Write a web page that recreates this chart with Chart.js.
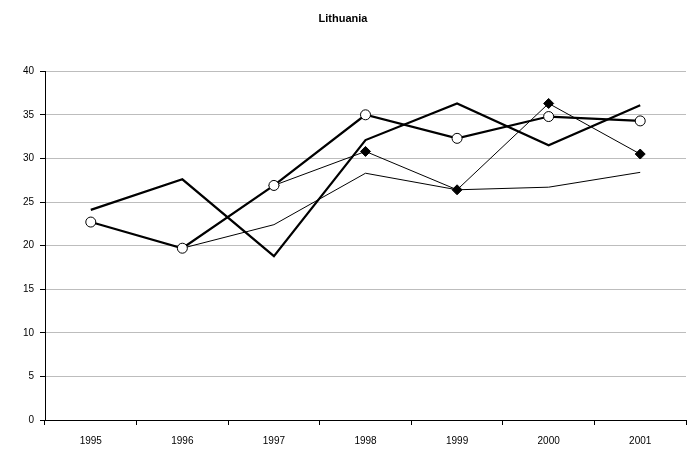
<!DOCTYPE html>
<html>
<head>
<meta charset="utf-8">
<script src="https://cdn.jsdelivr.net/npm/chart.js@4/dist/chart.umd.min.js"></script>
<style>
  html, body { margin: 0; padding: 0; background: #fff; }
  #wrap { width: 697px; height: 452px; }
</style>
</head>
<body>
<div id="wrap"><canvas id="grafico"></canvas></div>
<script>
const years = ["1995", "1996", "1997", "1998", "1999", "2000", "2001"];
const serieGruesa = [24.1, 27.6, 18.8, 32.1, 36.3, 31.5, 36.1];
const serieCirculos = [22.7, 19.7, 26.9, 35.0, 32.3, 34.8, 34.3];
const serieRombos = [null, null, 26.9, 30.8, 26.4, 36.3, 30.5];
const serieFina = [null, 19.7, 22.4, 28.3, 26.4, 26.7, 28.4];
const yTicks = [0, 5, 10, 15, 20, 25, 30, 35, 40];

const grafico = document.getElementById("grafico").getContext("2d");
Chart.defaults.font.family = "'Liberation Sans', Arial, sans-serif";
Chart.defaults.color = "#000";

const myChart = new Chart(grafico, {
    type: 'line',
    data: {
        labels: years,
        datasets: [
            {
                label: 'circulos',
                data: serieCirculos,
                borderColor: '#000',
                borderWidth: 2.2,
                pointStyle: 'circle',
                pointRadius: 5,
                pointBackgroundColor: '#fff',
                pointBorderColor: '#000',
                pointBorderWidth: 1,
                tension: 0,
                order: 0
            },
            {
                label: 'gruesa',
                data: serieGruesa,
                borderColor: '#000',
                borderWidth: 2.2,
                pointRadius: 0,
                tension: 0,
                order: 1
            },
            {
                label: 'rombos',
                data: serieRombos,
                borderColor: '#000',
                borderWidth: 1,
                pointStyle: 'rectRot',
                pointRadius: 5,
                pointBackgroundColor: '#000',
                pointBorderColor: '#000',
                tension: 0,
                order: 2
            },
            {
                label: 'fina',
                data: serieFina,
                borderColor: '#000',
                borderWidth: 1,
                pointRadius: 0,
                tension: 0,
                order: 3
            }
        ]
    },
    options: {
        responsive: true,
        maintainAspectRatio: false,
        animation: false,
        layout: { padding: { left: 0, right: 11, top: 0, bottom: 0 } },
        plugins: {
            legend: { display: false },
            tooltip: { enabled: false },
            title: {
                display: true,
                text: 'Lithuania',
                font: { size: 11, weight: 'bold' },
                padding: { top: 12, bottom: 46 }
            }
        },
        scales: {
            x: {
                offset: true,
                grid: {
                    offset: true,
                    drawOnChartArea: false,
                    tickColor: '#000',
                    tickLength: 5
                },
                border: { color: '#000', width: 1 },
                ticks: { font: { size: 10 }, padding: 10, maxRotation: 0 },
                afterFit: (scale) => { scale.height = 32; }
            },
            y: {
                min: 0,
                max: 40,
                afterBuildTicks: (scale) => { scale.ticks = yTicks.map(v => ({ value: v })); },
                grid: {
                    color: '#bdbdbd',
                    tickColor: '#000',
                    tickLength: 5
                },
                border: { color: '#000', width: 1 },
                ticks: { font: { size: 10 }, padding: 6 },
                afterFit: (scale) => { scale.width = 45; }
            }
        }
    }
});
</script>
</body>
</html>
